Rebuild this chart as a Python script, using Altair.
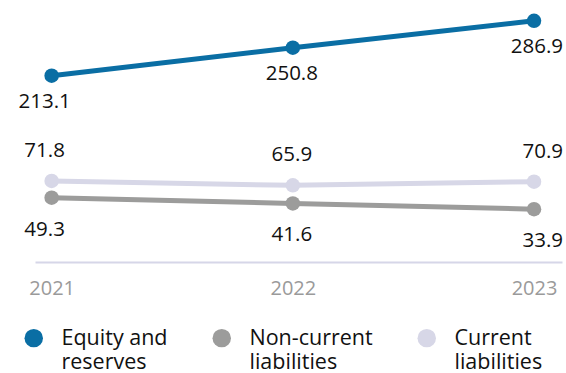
import altair as alt
import pandas as pd

years = [2021, 2022, 2023]
series = ["Equity and reserves", "Non-current liabilities", "Current liabilities"]
equity = [213.1, 250.8, 286.9]
non_current = [49.3, 41.6, 33.9]
current = [71.8, 65.9, 70.9]
colors = ["#0a6ea4", "#9c9c9b", "#d7d7e7"]

rows = []
# drawing order: current first, then non-current, then equity on top
for name, vals in [(series[2], current), (series[1], non_current), (series[0], equity)]:
    for yr, v in zip(years, vals):
        rows.append({"year": yr, "series": name, "value": v, "label": f"{v:.1f}"})
df = pd.DataFrame(rows)

FONT = "Open Sans"

x = alt.X(
    "year:Q",
    scale=alt.Scale(domain=[2020.931, 2023.116], nice=False, zero=False),
    axis=alt.Axis(
        values=years, format="d", title=None, grid=False, ticks=False,
        domainColor="#d6d6e8", domainWidth=2, labelColor="#9a9a9a",
        labelFontSize=20, labelPadding=26, labelFont=FONT,
    ),
)
y = alt.Y("value:Q", scale=alt.Scale(domain=[-37, 300], nice=False, zero=False), axis=None)
color_scale = alt.Scale(domain=series, range=colors)

base = alt.Chart(df)

lines = base.mark_line(strokeWidth=5).encode(
    x=x, y=y,
    color=alt.Color("series:N", scale=color_scale, legend=None),
    detail="series:N",
)

legend = alt.Legend(
    title=None, orient="none", legendX=-12, legendY=316, direction="horizontal",
    symbolType="circle", symbolSize=340, symbolStrokeWidth=0, symbolOpacity=1,
    labelFont=FONT, labelFontSize=21.5, labelColor="#111111", labelOffset=17,
    columnPadding=43, labelLimit=300, labelBaseline="top",
    labelExpr=(
        "datum.label == 'Equity and reserves' ? ['Equity and', 'reserves'] : "
        "datum.label == 'Non-current liabilities' ? ['Non-current', 'liabilities'] : "
        "['Current', 'liabilities']"
    ),
)

points = base.mark_point(filled=True, size=210, opacity=1).encode(
    x=x, y=y,
    color=alt.Color("series:N", scale=color_scale, legend=legend),
)

label_dy = {series[0]: 26, series[1]: 32, series[2]: -30}
year_align = {2021: ("center", -7), 2022: ("center", -1), 2023: ("right", 29)}

text_layers = []
for name in series:
    for yr in years:
        align, dx = year_align[yr]
        text_layers.append(
            base.mark_text(
                dy=label_dy[name], dx=dx, align=align,
                fontSize=20.5, font=FONT, color="#111111",
            ).encode(x=x, y=y, text="label:N").transform_filter(
                (alt.datum.series == name) & (alt.datum.year == yr)
            )
        )

chart = alt.layer(
    lines, points, *text_layers,
).resolve_legend(color="independent").properties(
    width=527, height=251,
    padding={"left": 35, "top": 11, "right": 4, "bottom": 111},
    autosize=alt.AutoSizeParams(type="none"),
).configure(
    style={"guide-label": {"lineHeight": 24, "dy": -10}}
).configure_view(stroke=None)

chart.save("out.html", embed_options={"renderer": "svg", "actions": False})
